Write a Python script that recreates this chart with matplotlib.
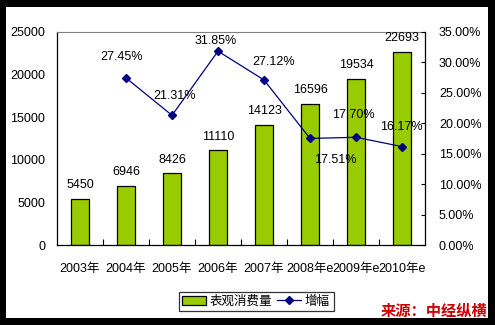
import matplotlib.pyplot as plt
import matplotlib.patches as mpatches
import numpy as np

plt.rcParams['font.family'] = ['Liberation Sans', 'Noto Sans CJK SC', 'DejaVu Sans']

years = ['2003年', '2004年', '2005年', '2006年', '2007年', '2008年e', '2009年e', '2010年e']
consumption = [5450, 6946, 8426, 11110, 14123, 16596, 19534, 22693]
growth = [None, 27.45, 21.31, 31.85, 27.12, 17.51, 17.70, 16.17]

fig = plt.figure(figsize=(4.95, 3.25), dpi=100, facecolor='black')
# 白色底板，四周留黑边
fig.patches.append(mpatches.Rectangle((6 / 495, 1 - 318 / 325), 482 / 495, 311 / 325,
                                      transform=fig.transFigure, facecolor='white',
                                      edgecolor='none', zorder=-10))

ax = fig.add_axes([57 / 495, 1 - 245 / 325, 368 / 495, 213 / 325])
ax.set_facecolor('none')
x = np.arange(len(years))

bars = ax.bar(x, consumption, width=0.41, color='#99CC00', edgecolor='black',
              linewidth=0.9, label='表观消费量', zorder=2)
for xi, v in zip(x, consumption):
    ax.text(xi, v + 900, str(v), ha='center', va='bottom', fontsize=9)

ax.set_xlim(-0.5, len(years) - 0.5)
ax.set_ylim(0, 25000)
ax.set_yticks(np.arange(0, 25001, 5000))
ax.set_xticks(x)
ax.set_xticklabels(years, fontsize=9)
ax.set_xticks(np.arange(0.5, len(years) - 1, 1), minor=True)
ax.tick_params(axis='x', which='major', length=0, pad=13)
ax.tick_params(axis='x', which='minor', direction='in', length=4, width=0.8)
ax.tick_params(axis='y', length=0, labelsize=9, pad=8.5)
ax.spines['top'].set_color('#808080')
ax.spines['right'].set_visible(False)
for s in ['left', 'bottom']:
    ax.spines[s].set_linewidth(0.9)

ax2 = ax.twinx()
gx = [xi for xi, g in zip(x, growth) if g is not None]
gy = [g for g in growth if g is not None]
line, = ax2.plot(gx, gy, color='#000080', linewidth=0.9, marker='D', markersize=4,
                 label='增幅', zorder=3)

# 各百分比标签相对数据点的偏移（类别宽度, 百分点）
offsets = {1: (-0.1, 3.4), 2: (0.05, 3.2), 3: (-0.05, 1.7), 4: (0.2, 3.0),
           5: (0.54, -3.5), 6: (-0.05, 3.6), 7: (-0.02, 3.3)}
for xi, g in zip(gx, gy):
    dx, dy = offsets[xi]
    ax2.text(xi + dx, g + dy, f'{g:.2f}%', ha='center', va='center', fontsize=9)

ax2.set_ylim(0, 35)
ax2.set_yticks(np.arange(0, 35.1, 5))
ax2.set_yticklabels([f'{t:.2f}%' for t in np.arange(0, 35.1, 5)])
ax2.tick_params(axis='y', direction='in', length=3, width=0.8, labelsize=9, pad=10)
ax2.spines['top'].set_visible(False)
ax2.spines['left'].set_visible(False)
ax2.spines['bottom'].set_visible(False)
ax2.spines['right'].set_linewidth(0.9)

leg = fig.legend(handles=[bars, line], loc='center', bbox_to_anchor=(256 / 495, 1 - 301.5 / 325),
                 ncol=2, fontsize=9, frameon=True, fancybox=False, edgecolor='black',
                 handlelength=1.9, handletextpad=0.3, columnspacing=0.4,
                 borderpad=0.3, borderaxespad=0)
leg.get_frame().set_linewidth(0.9)

fig.text(487 / 495, 1 - 310.5 / 325, '来源：中经纵横', ha='right', va='center',
         color='#CC0000', fontsize=11, fontweight='bold', style='italic',
         family=['Noto Sans CJK SC'])

fig.savefig('out.png', dpi=100, facecolor='black')
